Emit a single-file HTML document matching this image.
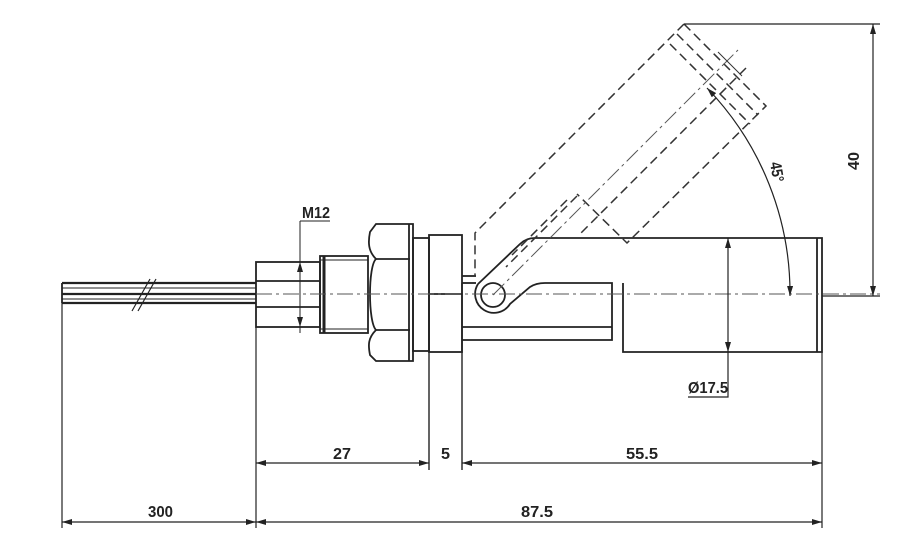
<!DOCTYPE html>
<html><head><style>
html,body{margin:0;padding:0;background:#fff;}
svg{display:block}
text{font-family:"Liberation Sans",sans-serif;font-weight:bold;fill:#222;}
</style></head><body>
<svg width="900" height="549" viewBox="0 0 900 549" xmlns="http://www.w3.org/2000/svg">
<defs>
<marker id="a" viewBox="0 0 10 6" refX="10" refY="3" markerWidth="10" markerHeight="6" orient="auto-start-reverse" markerUnits="userSpaceOnUse"><path d="M0,0 L10,3 L0,6 z" fill="#222"/></marker>
</defs>
<g stroke="#222" stroke-width="1.8" fill="none">
<line x1="62" y1="283" x2="256" y2="283" stroke-width="2.2"/>
<line x1="62" y1="294" x2="256" y2="294" stroke-width="2.2"/>
<line x1="62" y1="303" x2="256" y2="303" stroke-width="2.2"/>
<line x1="62" y1="288" x2="256" y2="288" stroke-width="1"/>
<line x1="62" y1="299" x2="256" y2="299" stroke-width="1"/>
<path d="M62,283 v20" />
<line x1="132" y1="311" x2="150" y2="279" stroke-width="1.2"/>
<line x1="138" y1="311" x2="156" y2="279" stroke-width="1.2"/>
<rect x="256" y="262" width="64" height="65"/>
<line x1="256" y1="281" x2="320" y2="281"/>
<line x1="256" y1="307" x2="320" y2="307"/>
<rect x="320" y="256" width="48" height="77"/>
<line x1="324" y1="256" x2="324" y2="333" stroke-width="3"/>
<line x1="320" y1="260" x2="368" y2="260" stroke-width="1"/>
<line x1="320" y1="329" x2="368" y2="329" stroke-width="1"/>
<path d="M300,221 V333 M300,221 H330" stroke-width="1"/>
<line x1="300" y1="275" x2="300" y2="262" stroke-width="1" marker-end="url(#a)"/>
<line x1="300" y1="313" x2="300" y2="327" stroke-width="1" marker-end="url(#a)"/>
<line x1="290" y1="262" x2="320" y2="262" stroke-width="0.8"/>
<line x1="290" y1="327" x2="320" y2="327" stroke-width="0.8"/>
<path d="M376,224 H413 V361 H376 L370,355 C368,345 368,338 376,330 C368,322 368,266 376,259 C368,251 368,242 370,232 Z"/>
<line x1="376" y1="259" x2="410" y2="259"/>
<line x1="376" y1="330" x2="410" y2="330"/>
<line x1="409" y1="224" x2="409" y2="361"/>
<rect x="413" y="238" width="16" height="113"/>
<rect x="429" y="235" width="33" height="117"/>
<line x1="429" y1="294" x2="462" y2="294"/>
<line x1="462" y1="276" x2="476" y2="276"/>
<line x1="462" y1="283" x2="476" y2="283"/>
<circle cx="493" cy="295" r="12"/>
<path d="M478,284 L520,244 Q526,238 535,238 H822 V352 H623 V283"/>
<path d="M478,284 A18,18 0 1 0 510,304 L530,287 Q536,283 545,283 H612 V340 H462"/>
<line x1="462" y1="327" x2="612" y2="327"/>
<line x1="817" y1="238" x2="817" y2="352"/>
<line x1="462" y1="283" x2="462" y2="470" stroke-width="1.4"/>
<line x1="429" y1="352" x2="429" y2="470" stroke-width="1.4"/>
</g>
<g stroke="#333" stroke-width="1.5" fill="none" stroke-dasharray="9,5">
<path d="M684,24 L475,233 V276"/>
<path d="M684,24 L766,106 L627,243 L577,194"/>
<line x1="677" y1="34" x2="758" y2="115"/>
<line x1="670" y1="44" x2="750" y2="124"/>
<line x1="746" y1="68" x2="580" y2="234"/>
<line x1="577" y1="196" x2="506" y2="267"/>
<line x1="567" y1="200" x2="512" y2="255"/>
</g>
<g stroke="#555" stroke-width="1" fill="none" stroke-dasharray="16,4,3,4">
<line x1="256" y1="294" x2="880" y2="294"/>
<line x1="493" y1="295" x2="738" y2="50"/>
</g>
<line x1="718" y1="52" x2="742" y2="76" stroke="#333" stroke-width="1"/>
<g stroke="#222" stroke-width="1.2" fill="none">
<line x1="684" y1="24" x2="880" y2="24"/>
<line x1="822" y1="296" x2="880" y2="296"/>
<line x1="873" y1="24" x2="873" y2="296" marker-start="url(#a)" marker-end="url(#a)"/>
<path d="M707,88 A296,296 0 0 1 790,296" marker-start="url(#a)" marker-end="url(#a)"/>
<line x1="728" y1="238" x2="728" y2="352" marker-start="url(#a)" marker-end="url(#a)"/>
<path d="M728,352 V397 H688"/>
<line x1="62" y1="303" x2="62" y2="528"/>
<line x1="256" y1="327" x2="256" y2="528"/>
<line x1="822" y1="352" x2="822" y2="528"/>
<line x1="256" y1="463" x2="429" y2="463" marker-start="url(#a)" marker-end="url(#a)"/>
<line x1="462" y1="463" x2="822" y2="463" marker-start="url(#a)" marker-end="url(#a)"/>
<line x1="62" y1="522" x2="256" y2="522" marker-start="url(#a)" marker-end="url(#a)"/>
<line x1="256" y1="522" x2="822" y2="522" marker-start="url(#a)" marker-end="url(#a)"/>
</g>
<g font-size="16">
<text x="302" y="218" textLength="28" lengthAdjust="spacingAndGlyphs">M12</text>
<text x="333" y="459" textLength="18" lengthAdjust="spacingAndGlyphs">27</text>
<text x="441" y="459" textLength="9" lengthAdjust="spacingAndGlyphs">5</text>
<text x="626" y="459" textLength="32" lengthAdjust="spacingAndGlyphs">55.5</text>
<text x="148" y="517" textLength="25" lengthAdjust="spacingAndGlyphs">300</text>
<text x="521" y="517" textLength="32" lengthAdjust="spacingAndGlyphs">87.5</text>
<text x="688" y="393" textLength="40" lengthAdjust="spacingAndGlyphs">Ø17.5</text>
<text transform="translate(859,170) rotate(-90)" textLength="18" lengthAdjust="spacingAndGlyphs">40</text>
<text transform="translate(770,163) rotate(80)" textLength="20" lengthAdjust="spacingAndGlyphs">45°</text>
</g>
</svg>
</body></html>
